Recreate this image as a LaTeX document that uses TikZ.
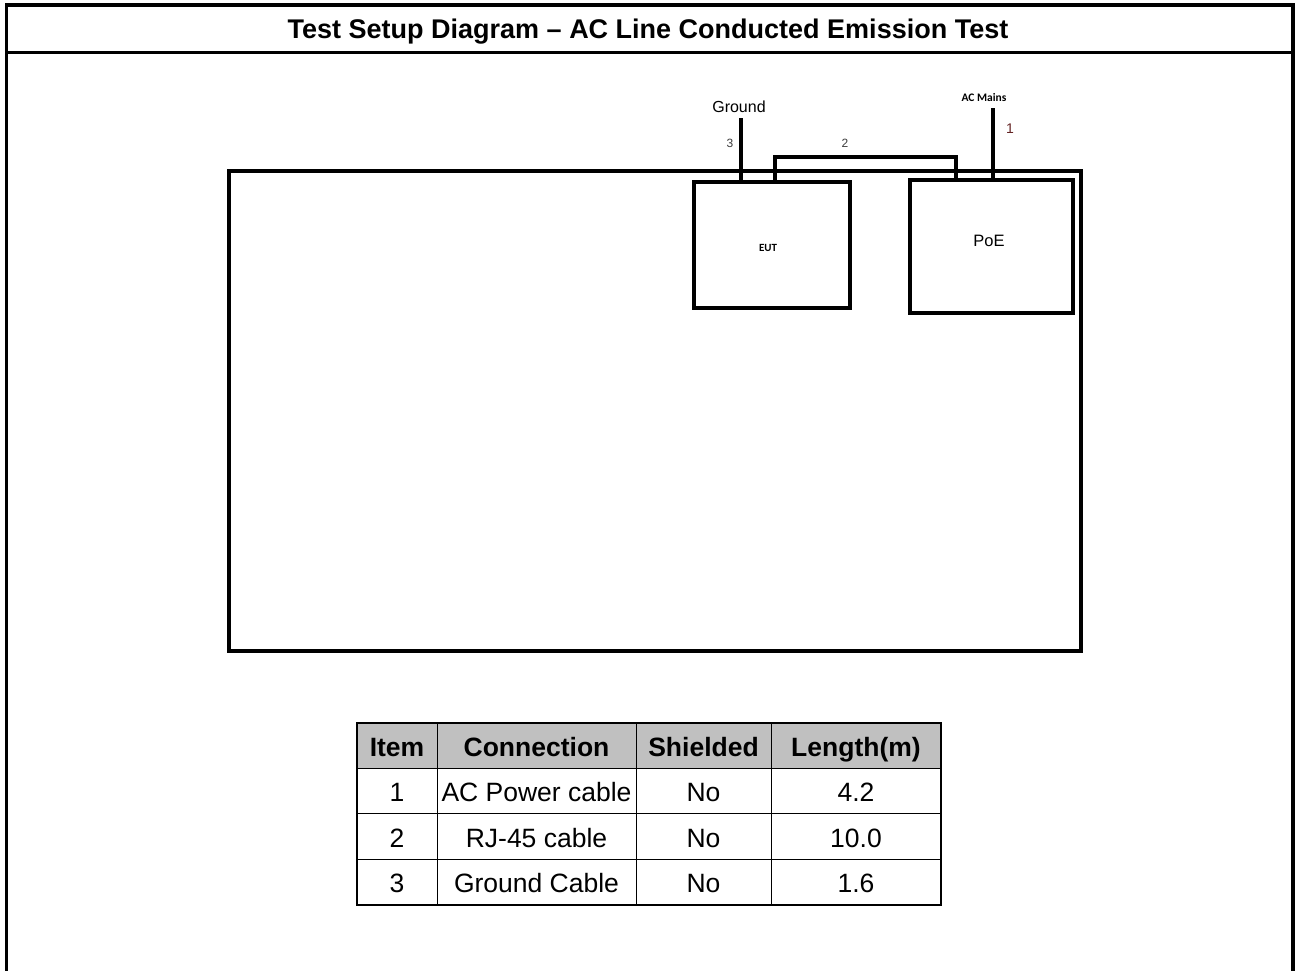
\documentclass[tikz,border=0pt]{standalone}
\usepackage{fontspec}
\setmainfont{Liberation Sans}
\newfontfamily\calibri{Carlito}
\usetikzlibrary{calc}
\definecolor{hdrgray}{RGB}{192,192,192}
\definecolor{numgray}{RGB}{60,60,60}
\definecolor{numred}{RGB}{100,35,35}
\begin{document}
\begin{tikzpicture}[x=1pt,y=-1pt,
  devbox/.style={draw, line width=4pt, outer sep=0pt, inner sep=0pt, rectangle},
  cable/.style={line width=4pt, line join=miter},
  frameline/.style={line width=3.5pt, line join=miter},
  cell/.style={draw, line width=1pt, outer sep=0pt, inner sep=0pt, minimum height=45.5pt,
    text height=21pt, text depth=0pt, font=\fontsize{26.5}{30}\selectfont},
  hcell/.style={cell, fill=hdrgray, font=\bfseries\fontsize{26.5}{30}\selectfont},
  lbl/.style={inner sep=0pt, outer sep=0pt}
]
\useasboundingbox (0,0) rectangle (1295,971);
% outer frame
\draw[frameline] (6.5,975) -- (6.5,5) -- (1293,5) -- (1293,975);
\draw[frameline] (6.5,52.5) -- (1293,52.5);
\node[lbl, font=\bfseries\fontsize{27}{30}\selectfont] (title) at (648,32) {Test Setup Diagram – AC Line Conducted Emission Test};

% bench
\node[devbox, minimum width=852pt, minimum height=480pt] (bench) at (655,411) {};
% devices
\node[devbox, minimum width=156pt, minimum height=126pt] (eut) at (772,245) {};
\node[lbl, font=\calibri\bfseries\fontsize{11}{13}\selectfont] (euttext) at (768,248) {EUT};
\node[devbox, minimum width=163.5pt, minimum height=132.5pt] (poe) at (991.25,246.25) {};
\node[lbl, font=\fontsize{16.5}{20}\selectfont] (poetext) at (989,241) {PoE};

% cable ends
\coordinate (gndtop) at (741,118);
\coordinate (actop) at (993,108);
\coordinate (rjtop) at (865,157);

% cables
\draw[cable] ([xshift=47pt]eut.north west) -- (gndtop);
\draw[cable] ([xshift=81pt]eut.north west) |- (rjtop) -| ([xshift=46.5pt]poe.north west);
\draw[cable] ([xshift=83.5pt]poe.north west) -- (actop);

% labels
\node[lbl, font=\fontsize{16}{19}\selectfont] (gndlbl) at (739,107) {Ground};
\node[lbl, font=\calibri\bfseries\fontsize{11.5}{14}\selectfont] (aclbl) at (984,98) {AC Mains};
\node[lbl, text=numgray, font=\fontsize{12}{14}\selectfont] (n3) at (730,143) {3};
\node[lbl, text=numgray, font=\fontsize{12}{14}\selectfont] (n2) at (845,143) {2};
\node[lbl, text=numred, font=\fontsize{14}{16}\selectfont] (n1) at (1010,129) {1};

% table
\node[hcell, minimum width=80pt]  (h1) at (397,745.5) {Item};
\node[hcell, minimum width=199pt] (h2) at (536.5,745.5) {Connection};
\node[hcell, minimum width=135pt] (h3) at (703.5,745.5) {Shielded};
\node[hcell, minimum width=170pt] (h4) at (856,745.5) {Length(m)};

\node[cell, minimum width=80pt]  (r1c1) at (397,791) {1};
\node[cell, minimum width=199pt] (r1c2) at (536.5,791) {AC Power cable};
\node[cell, minimum width=135pt] (r1c3) at (703.5,791) {No};
\node[cell, minimum width=170pt] (r1c4) at (856,791) {4.2};

\node[cell, minimum width=80pt]  (r2c1) at (397,836.5) {2};
\node[cell, minimum width=199pt] (r2c2) at (536.5,836.5) {RJ-45 cable};
\node[cell, minimum width=135pt] (r2c3) at (703.5,836.5) {No};
\node[cell, minimum width=170pt] (r2c4) at (856,836.5) {10.0};

\node[cell, minimum width=80pt]  (r3c1) at (397,882) {3};
\node[cell, minimum width=199pt] (r3c2) at (536.5,882) {Ground Cable};
\node[cell, minimum width=135pt] (r3c3) at (703.5,882) {No};
\node[cell, minimum width=170pt] (r3c4) at (856,882) {1.6};

\draw[line width=2pt] (h1.north west) rectangle (r3c4.south east);
\end{tikzpicture}
\end{document}
